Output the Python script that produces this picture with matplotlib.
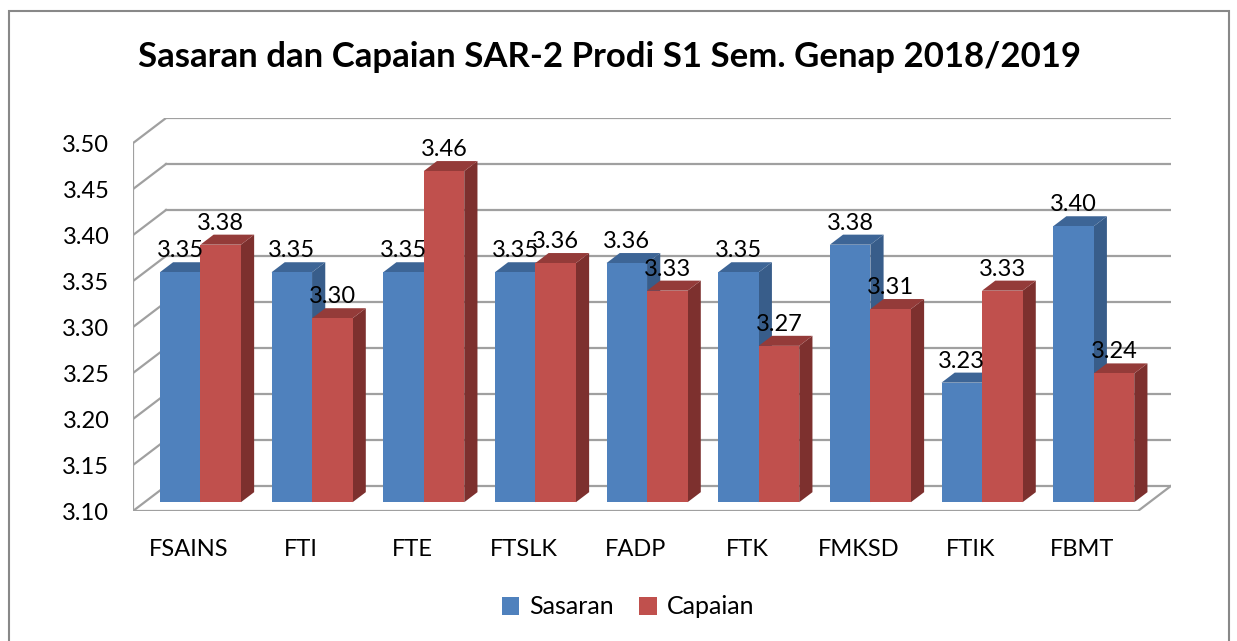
import matplotlib.pyplot as plt
from matplotlib.patches import Polygon, Patch, Rectangle

# ----------------------------
# DATA
# ----------------------------
categories = ['FSAINS', 'FTI', 'FTE', 'FTSLK', 'FADP', 'FTK', 'FMKSD', 'FTIK', 'FBMT']
sasaran = [3.35, 3.35, 3.35, 3.35, 3.36, 3.35, 3.38, 3.23, 3.40]
capaian = [3.38, 3.30, 3.46, 3.36, 3.33, 3.27, 3.31, 3.33, 3.24]
y_ticks = [3.10, 3.15, 3.20, 3.25, 3.30, 3.35, 3.40, 3.45, 3.50]

series = [
    ('Sasaran', sasaran, '#4F81BD', '#385D8A', '#3D6596'),
    ('Capaian', capaian, '#C0504D', '#7D302E', '#943B39'),
]

plt.rcParams['font.family'] = ['Lato', 'DejaVu Sans']

W, H = 1237, 641
fig = plt.figure(figsize=(W / 100, H / 100), dpi=100)

# plot area in pixels (front plane + depth)
left_px, right_px = 133, 1171
top_px, bottom_px = 118, 511
ax = fig.add_axes([left_px / W, 1 - bottom_px / H,
                   (right_px - left_px) / W, (bottom_px - top_px) / H])

ymin, ymax = 3.10, 3.50
n = len(categories)
px_per_cat = 1004 / n
DX = 33 / px_per_cat     # depth shift in category units
DY = 0.0273              # depth shift in value units
ax.set_xlim(0, n + DX)
ax.set_ylim(ymin, ymax + DY)


def P(x, v, d):
    return (x + d * DX, v + d * DY)


grid_col = '#A0A0A0'
lw = 1.6

# back wall gridlines + left wall diagonals
for v in y_ticks:
    ax.plot(*zip(P(0, v, 1), P(n, v, 1)), color=grid_col, lw=lw, zorder=1)
    ax.plot(*zip(P(0, v, 0), P(0, v, 1)), color=grid_col, lw=lw, zorder=1)

# front-left edge and floor
ax.plot(*zip(P(0, ymin, 0), P(0, ymax, 0)), color=grid_col, lw=lw, zorder=1)
ax.plot(*zip(P(0, ymin, 0), P(n, ymin, 0)), color=grid_col, lw=lw, zorder=1)
ax.plot(*zip(P(n, ymin, 0), P(n, ymin, 1)), color=grid_col, lw=lw, zorder=1)

# ----------------------------
# 3D BARS
# ----------------------------
w = 0.363
d0, d1 = 0.35, 0.75
z = 2
for i in range(n):
    for s, (name, vals, c_front, c_side, c_top) in enumerate(series):
        v = vals[i]
        x0 = i + 0.5 - w + s * w
        x1 = x0 + w
        front = [P(x0, ymin, d0), P(x1, ymin, d0), P(x1, v, d0), P(x0, v, d0)]
        side = [P(x1, ymin, d0), P(x1, ymin, d1), P(x1, v, d1), P(x1, v, d0)]
        top = [P(x0, v, d0), P(x1, v, d0), P(x1, v, d1), P(x0, v, d1)]
        ax.add_patch(Polygon(side, closed=True, fc=c_side, ec='none', zorder=z))
        ax.add_patch(Polygon(top, closed=True, fc=c_top, ec='none', zorder=z))
        ax.add_patch(Polygon(front, closed=True, fc=c_front, ec='none', zorder=z + 0.5))
        z += 1
        lx, ly = P((x0 + x1) / 2, v, d0)
        ax.annotate(f'{v:.2f}', (lx, ly), xytext=(0, 15.5), textcoords='offset points',
                    ha='center', va='center', fontsize=17, color='black', zorder=100)

# ----------------------------
# AXES / TICKS
# ----------------------------
ax.set_yticks(y_ticks)
ax.set_yticklabels([f'{t:.2f}' for t in y_ticks])
ax.set_xticks([i + 0.5 for i in range(n)])
ax.set_xticklabels(categories)
ax.tick_params(axis='y', length=0, pad=17, labelsize=17)
ax.tick_params(axis='x', length=0, pad=20, labelsize=17)
for sp in ax.spines.values():
    sp.set_visible(False)
ax.set_facecolor('none')

fig.text(609 / W, 1 - 57 / H, 'Sasaran dan Capaian SAR-2 Prodi S1 Sem. Genap 2018/2019',
         ha='center', va='center', fontsize=25, fontweight='bold')

handles = [Patch(fc=s[2], ec='none', label=s[0]) for s in series]
fig.legend(handles=handles, loc='center', bbox_to_anchor=(628 / W, 1 - 607 / H),
           ncol=2, frameon=False, fontsize=18, handlelength=0.7, handleheight=0.7,
           handletextpad=0.4, columnspacing=1.0)

fig.patches.append(Rectangle((9 / W, -0.05), (1229 - 9) / W, 1.05 - 11 / H,
                             transform=fig.transFigure, fill=False,
                             ec='#888888', lw=1.5))

fig.savefig('out.png', dpi=100)
